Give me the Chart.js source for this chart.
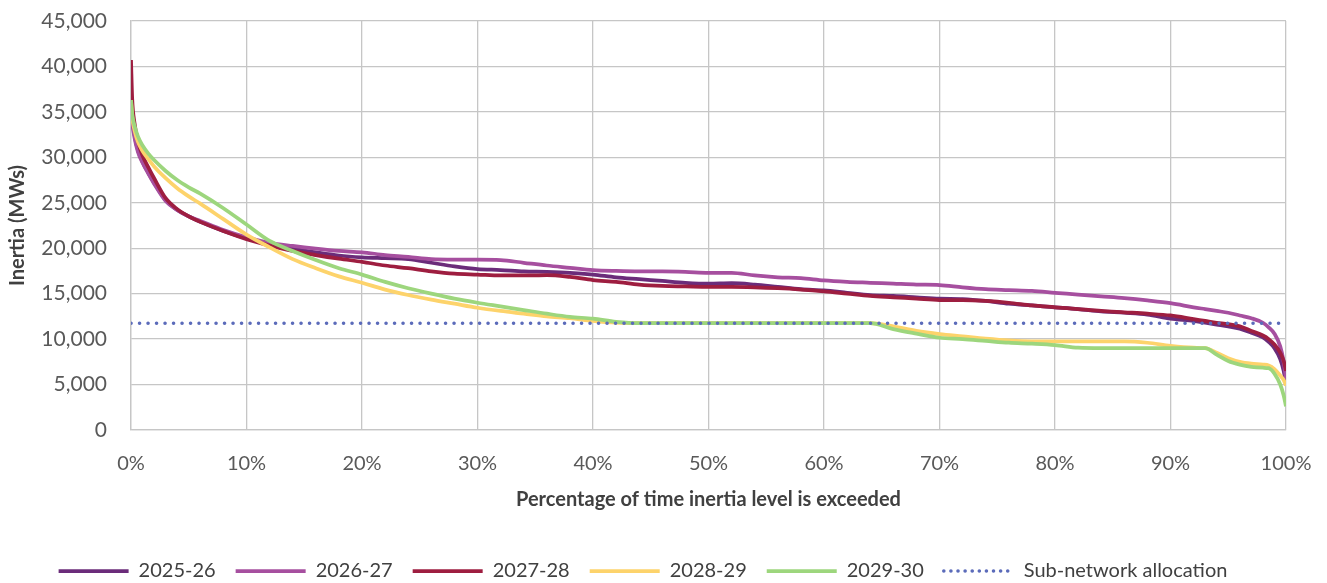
<!DOCTYPE html>
<html>
<head>
<meta charset="utf-8">
<script src="https://cdn.jsdelivr.net/npm/chart.js@4"></script>
<style>
  html, body { margin: 0; padding: 0; background: #ffffff; }
  #wrap { width: 1327px; height: 583px; }
</style>
</head>
<body>
<div id="wrap"><canvas id="c" width="1327" height="583"></canvas></div>
<script>
// ---- data ----
const pct = [0, 0.1, 0.3, 0.6, 1, 1.5, 2, 3, 4, 5, 6, 8, 10, 12, 14, 16, 18, 20, 22, 24, 26, 28, 30, 32, 34, 36, 38, 40, 42, 44, 46, 48, 50, 52, 54, 56, 58, 60, 62, 64, 66, 68, 70, 72, 74, 76, 78, 80, 82, 84, 86, 88, 90, 92, 93, 94, 95, 96, 97, 98, 98.5, 99, 99.5, 99.8, 100];

const seriesNames = ["2025-26", "2026-27", "2027-28", "2028-29", "2029-30"];

const y2025 = [37000, 34500, 32500, 30800, 29500, 28300, 27200, 25300, 24200, 23500, 22900, 21900, 21100, 20500, 19950, 19550, 19200, 19000, 18900, 18800, 18400, 18000, 17700, 17600, 17450, 17400, 17300, 17100, 16800, 16600, 16400, 16200, 16100, 16150, 16000, 15750, 15500, 15350, 15100, 14850, 14750, 14600, 14450, 14400, 14200, 13900, 13700, 13500, 13300, 13050, 12900, 12700, 12250, 12000, 11800, 11600, 11400, 11150, 10700, 10200, 9700, 9000, 7800, 6500, 5000];

const y2026 = [36000, 34000, 32200, 30600, 29400, 28200, 27100, 25200, 24200, 23500, 23000, 22000, 21200, 20600, 20250, 19950, 19700, 19550, 19250, 19050, 18800, 18750, 18750, 18700, 18400, 18100, 17850, 17600, 17500, 17450, 17450, 17400, 17300, 17300, 17000, 16800, 16700, 16450, 16300, 16200, 16100, 16000, 15950, 15700, 15500, 15400, 15300, 15100, 14900, 14700, 14500, 14250, 13950, 13500, 13300, 13100, 12900, 12600, 12300, 11800, 11300, 10600, 9200, 7500, 5600];

const y2027 = [40700, 36500, 33800, 31800, 30200, 28900, 27700, 25500, 24300, 23500, 22900, 21900, 21000, 20300, 19700, 19250, 18850, 18500, 18100, 17800, 17450, 17200, 17100, 17000, 17000, 17050, 16850, 16500, 16300, 16000, 15850, 15800, 15750, 15750, 15700, 15600, 15450, 15250, 15000, 14750, 14600, 14450, 14300, 14300, 14200, 14000, 13700, 13500, 13300, 13100, 12950, 12800, 12600, 12200, 12000, 11800, 11650, 11400, 10900, 10400, 10000, 9400, 8500, 7600, 6500];

const y2028 = [36300, 34500, 33000, 31700, 30700, 29800, 29000, 27700, 26600, 25700, 24900, 23200, 21500, 20100, 18800, 17800, 16900, 16200, 15450, 14850, 14350, 13900, 13450, 13100, 12800, 12500, 12300, 12000, 11800, 11750, 11750, 11750, 11750, 11750, 11750, 11750, 11750, 11750, 11750, 11750, 11400, 10900, 10550, 10300, 10050, 9850, 9750, 9750, 9750, 9750, 9750, 9600, 9250, 9050, 9000, 8500, 7900, 7500, 7300, 7200, 7100, 6700, 6000, 5500, 4900];

const y2029 = [36300, 34800, 33500, 32300, 31300, 30400, 29700, 28500, 27500, 26700, 26000, 24400, 22600, 20800, 19700, 18700, 17800, 17100, 16300, 15600, 15000, 14450, 14000, 13600, 13200, 12800, 12450, 12250, 11900, 11750, 11750, 11750, 11750, 11750, 11750, 11750, 11750, 11750, 11750, 11750, 11100, 10600, 10150, 10000, 9800, 9600, 9500, 9350, 9050, 9000, 9000, 9000, 9000, 9000, 9000, 8300, 7600, 7200, 6950, 6850, 6800, 6200, 5000, 3800, 2600];

const allocName = "Sub-network allocation";
const allocPct = [0, 100];
const allocValue = [11750, 11750];

const yTicks = [0, 5000, 10000, 15000, 20000, 25000, 30000, 35000, 40000, 45000];
const xTicks = [0, 10, 20, 30, 40, 50, 60, 70, 80, 90, 100];

// ---- styling ----
const colors = ["#6B2C7A", "#A64F9F", "#9E1E40", "#FDD36B", "#9DD67D"];
const allocColor = "#5B6BBA";
const FONT = "Lato";
const TEXT = "#404040";

const seriesValues = [y2025, y2026, y2027, y2028, y2029];
const toPts = (xs, ys) => xs.map((x, i) => ({ x: x, y: ys[i] }));

const datasets = seriesNames.map((name, i) => ({
  label: name,
  data: toPts(pct, seriesValues[i]),
  borderColor: colors[i],
  backgroundColor: colors[i],
  borderWidth: 3.75,
  pointRadius: 0,
  pointHoverRadius: 0,
  cubicInterpolationMode: "monotone",
  borderCapStyle: "butt",
  fill: false,
  order: 10 - i
}));
datasets.push({
  label: allocName,
  data: toPts(allocPct, allocValue),
  borderColor: allocColor,
  backgroundColor: allocColor,
  borderWidth: 3.5,
  borderDash: [0.1, 8.4],
  borderCapStyle: "round",
  pointRadius: 0,
  pointHoverRadius: 0,
  fill: false,
  order: 1
});

const gridColor = "#C6C6C6";

new Chart(document.getElementById("c"), {
  type: "line",
  data: { datasets: datasets },
  options: {
    responsive: false,
    animation: false,
    events: [],
    layout: { padding: { top: 21, right: 41, left: 0, bottom: -8 } },
    scales: {
      x: {
        type: "linear",
        min: 0, max: 100,
        afterBuildTicks: (s) => { s.ticks = xTicks.map(v => ({ value: v })); },
        afterFit: (s) => { s.height = 111; s.paddingLeft = 0; s.paddingRight = 0; },
        grid: { color: gridColor, lineWidth: 1.3, drawTicks: false },
        border: { color: gridColor, width: 1.3 },
        ticks: {
          padding: 22,
          color: "#595959",
          font: { family: FONT, size: 20 },
          maxRotation: 0,
          callback: (v) => v + "%"
        },
        title: {
          display: true,
          text: "Percentage of time inertia level is exceeded",
          color: TEXT,
          font: { family: FONT, size: 20, weight: "bold" },
          padding: { top: 0, bottom: 29 }
        }
      },
      y: {
        min: 0, max: 45000,
        afterBuildTicks: (s) => { s.ticks = yTicks.map(v => ({ value: v })); },
        afterFit: (s) => { s.width = 131; s.paddingTop = 0; s.paddingBottom = 0; },
        grid: { color: gridColor, lineWidth: 1.3, drawTicks: false },
        border: { color: gridColor, width: 1.3 },
        ticks: {
          padding: 24,
          color: "#595959",
          font: { family: FONT, size: 21 },
          callback: (v) => v.toLocaleString("en-US")
        },
        title: {
          display: true,
          text: "Inertia (MWs)",
          color: TEXT,
          font: { family: FONT, size: 20, weight: "bold" },
          padding: { top: 6, bottom: 0 }
        }
      }
    },
    plugins: {
      tooltip: { enabled: false },
      legend: {
        position: "bottom",
        labels: {
          usePointStyle: true,
          pointStyle: "line",
          pointStyleWidth: 70,
          padding: 20,
          color: TEXT,
          font: { family: FONT, size: 20 },
          generateLabels: (chart) => chart.data.datasets.map((ds, i) => ({
            text: ds.label,
            datasetIndex: i,
            fillStyle: ds.borderColor,
            strokeStyle: ds.borderColor,
            fontColor: TEXT,
            lineWidth: ds.borderWidth,
            lineDash: ds.borderDash ? [0.1, 7] : [],
            lineCap: ds.borderDash ? "round" : "butt",
            pointStyle: "line",
            hidden: false
          }))
        }
      }
    }
  }
});
</script>
</body>
</html>
